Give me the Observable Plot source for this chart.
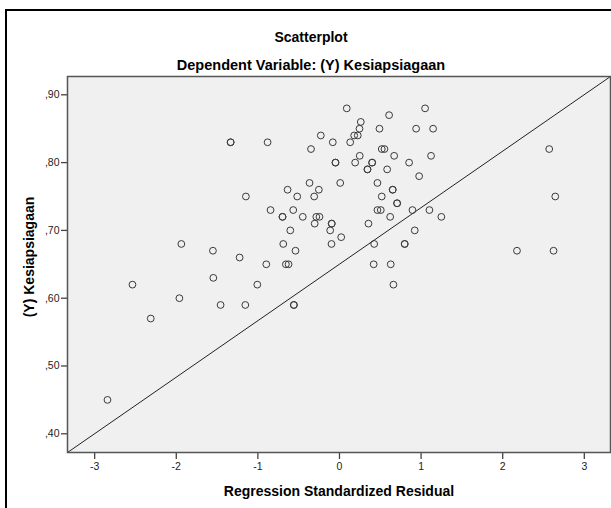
<!DOCTYPE html>
<html><head><meta charset="utf-8">
<script src="https://cdn.jsdelivr.net/npm/d3@7"></script>
<script src="https://cdn.jsdelivr.net/npm/@observablehq/plot@0.6"></script>
<style>
body{margin:0;background:#fff;font-family:"Liberation Sans",Arial,sans-serif;}
#wrap{position:relative;width:611px;height:508px;overflow:hidden;}
#border{position:absolute;left:5px;top:8.5px;width:640px;height:540px;border:2px solid #000;box-sizing:border-box;pointer-events:none}
.t{position:absolute;font-weight:bold;font-size:14px;color:#000;white-space:nowrap;transform:translate(-50%,-50%)}
.yl{transform:translate(-50%,-50%) rotate(-90deg)}
</style></head><body>
<div id="wrap">
<div id="chart"></div>
<div id="border"></div>
<div class="t" style="left:311px;top:37px">Scatterplot</div>
<div class="t" style="left:311px;top:65px;font-size:14.5px">Dependent Variable: (Y) Kesiapsiagaan</div>
<div class="t" style="left:339px;top:491px">Regression Standardized Residual</div>
<div class="t yl" style="left:29px;top:257px">(Y) Kesiapsiagaan</div>
</div>
<script>
const residual = [
  0.089, 1.049,
  0.608,
  0.261,
  0.245, 0.490, 0.939, 1.147,
  -0.229, 0.180, 0.224,
  -1.334, -1.334, -0.881, -0.082, 0.131,
  -0.349, 0.518, 0.551, 2.570,
  0.248, 0.670, 1.122,
  -0.049, -0.049, 0.192, 0.400, 0.400, 0.853,
  0.343, 0.343, 0.584,
  0.976,
  -0.367, 0.009, 0.465,
  -0.636, -0.253, 0.652, 0.652,
  -1.147, -0.518, -0.310, 0.518, 2.644,
  0.706, 0.706,
  -0.845, -0.567, 0.465, 0.506, 0.894, 1.102,
  -0.698, -0.698, -0.450, -0.284, -0.245, 0.621, 1.248,
  -0.304, -0.095, -0.095, 0.355,
  -0.603, -0.114, 0.922,
  0.021,
  -1.938, -0.689, -0.098, 0.425, 0.799, 0.799,
  -1.551, -0.539, 2.175, 2.623,
  -1.224,
  -0.897, -0.657, -0.624, 0.419, 0.628,
  -1.546,
  -2.537, -1.007, 0.661,
  -1.962,
  -1.457, -1.154, -0.559, -0.559,
  -2.313,
  -2.843
];
const kesiapsiagaan = [
  0.88, 0.88,
  0.87,
  0.86,
  0.85, 0.85, 0.85, 0.85,
  0.84, 0.84, 0.84,
  0.83, 0.83, 0.83, 0.83, 0.83,
  0.82, 0.82, 0.82, 0.82,
  0.81, 0.81, 0.81,
  0.80, 0.80, 0.80, 0.80, 0.80, 0.80,
  0.79, 0.79, 0.79,
  0.78,
  0.77, 0.77, 0.77,
  0.76, 0.76, 0.76, 0.76,
  0.75, 0.75, 0.75, 0.75, 0.75,
  0.74, 0.74,
  0.73, 0.73, 0.73, 0.73, 0.73, 0.73,
  0.72, 0.72, 0.72, 0.72, 0.72, 0.72, 0.72,
  0.71, 0.71, 0.71, 0.71,
  0.70, 0.70, 0.70,
  0.69,
  0.68, 0.68, 0.68, 0.68, 0.68, 0.68,
  0.67, 0.67, 0.67, 0.67,
  0.66,
  0.65, 0.65, 0.65, 0.65, 0.65,
  0.63,
  0.62, 0.62, 0.62,
  0.60,
  0.59, 0.59, 0.59, 0.59,
  0.57,
  0.45
];
const xTicks = [-3, -2, -1, 0, 1, 2, 3];
const yTicks = [0.4, 0.5, 0.6, 0.7, 0.8, 0.9];
const xDomain = [-3.333, 3.321];
const yDomain = [0.3724, 0.927];
// reference line (corner to corner of the plot area)
const refX = [xDomain[0], xDomain[1]];
const refY = [yDomain[0], yDomain[1]];

const points = residual.map((r, i) => ({r, y: kesiapsiagaan[i]}));
const ref = refX.map((x, i) => ({x, y: refY[i]}));
const fmtY = d => d3.format(".2f")(d).replace(/^0\./, ",");

const chart = Plot.plot({
  width: 611,
  height: 508,
  marginLeft: 67,
  marginRight: 1,
  marginTop: 76,
  marginBottom: 56,
  style: {background: "transparent", fontFamily: "'Liberation Sans', Arial, sans-serif", fontSize: "10.5px", color: "#222"},
  x: {domain: xDomain},
  y: {domain: yDomain},
  marks: [
    Plot.frame({fill: "#f0f0f0", stroke: null}),
    Plot.axisX({ticks: xTicks, tickSize: 7, tickPadding: 3, tickFormat: d => String(d), label: null, stroke: "#444", strokeWidth: 1.3}),
    Plot.axisY({ticks: yTicks, tickSize: 6, tickPadding: 2, tickFormat: fmtY, label: null, stroke: "#444", strokeWidth: 1.3}),
    Plot.line(ref, {x: "x", y: "y", stroke: "#222", strokeWidth: 1, clip: true}),
    Plot.dot(points, {x: "r", y: "y", r: 3.4, stroke: "#3a3a3a", strokeWidth: 1, fill: "none"}),
    Plot.frame({stroke: "#555", strokeWidth: 1.5})
  ]
});
document.getElementById("chart").appendChild(chart);
</script>
</body></html>
